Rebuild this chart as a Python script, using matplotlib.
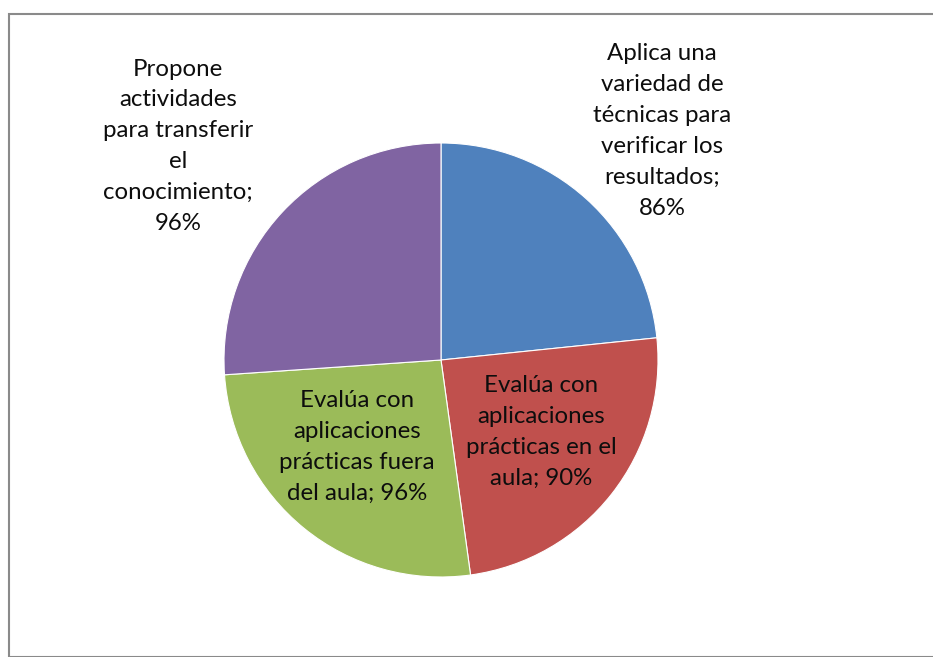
import matplotlib
matplotlib.use("Agg")
import matplotlib.pyplot as plt
from matplotlib.patches import Rectangle

categories = [
    "Aplica una\nvariedad de\ntécnicas para\nverificar los\nresultados",
    "Evalúa con\naplicaciones\nprácticas en el\naula",
    "Evalúa con\naplicaciones\nprácticas fuera\ndel aula",
    "Propone\nactividades\npara transferir\nel\nconocimiento",
]
values = [86, 90, 96, 96]
colors = ["#4F81BD", "#C0504D", "#9BBB59", "#8064A2"]
sep = [";\n", "; ", "; ", ";\n"]
label_pos = [(1.018, 1.055), (0.461, -0.332), (-0.387, -0.40), (-1.212, 0.985)]

plt.rcParams['font.family'] = ['Lato', 'DejaVu Sans']

W, H = 933, 657
fig = plt.figure(figsize=(W / 100, H / 100), dpi=100)
ax = fig.add_axes([0, 0, 1, 1])
cx, cy, r = 441, 360, 217

ax.pie(values, colors=colors, startangle=90, counterclock=False, radius=1,
       wedgeprops=dict(edgecolor='white', linewidth=0.8))
ax.set_xlim(-cx / r, (W - cx) / r)
ax.set_ylim(-(H - cy) / r, cy / r)
ax.set_aspect('equal')
ax.axis('off')

for cat, v, s, (x, y) in zip(categories, values, sep, label_pos):
    txt = cat + s + f"{v}%"
    ax.text(x, y, txt, ha='center', va='center', fontsize=17.3,
            linespacing=1.58, color='#0d0d0d')

fig.patches.append(Rectangle((8.5 / W, 0), 1, 1 - 13.5 / H, transform=fig.transFigure,
                             fill=False, edgecolor='#8a8a8a', linewidth=1.5))
fig.savefig("out.png", dpi=100)
